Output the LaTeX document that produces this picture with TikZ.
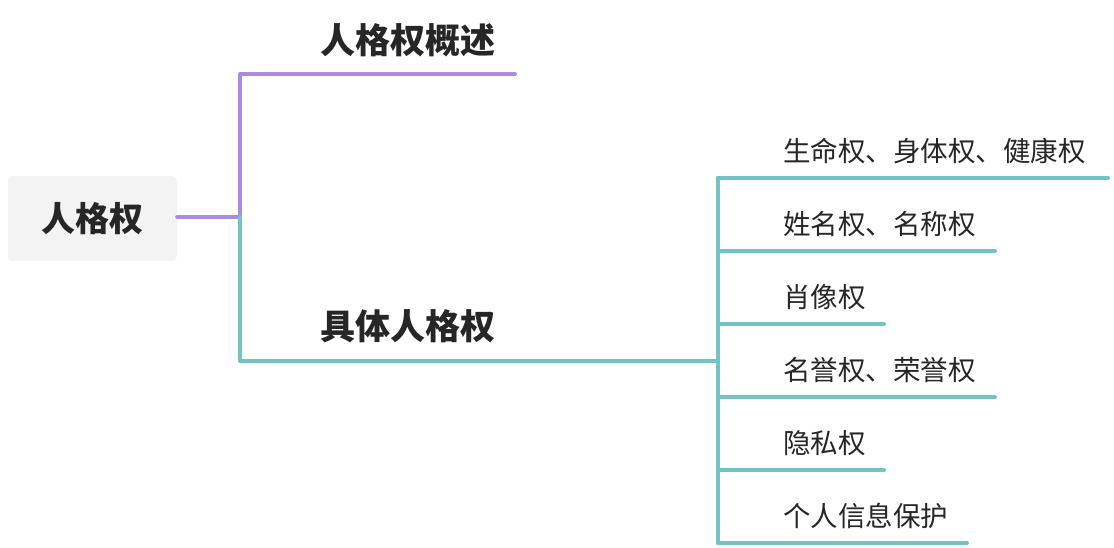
\documentclass[tikz,border=0pt]{standalone}
\usepackage{fontspec}
\setmainfont{Noto Sans CJK SC}
\definecolor{teal1}{HTML}{72C4C4}
\definecolor{purp}{HTML}{A98BE3}
\definecolor{boxg}{HTML}{F3F3F3}
\definecolor{txt}{HTML}{262626}
\begin{document}
\begin{tikzpicture}[x=1pt,y=-1pt,
  ln/.style={line width=4pt,line cap=round,line join=round},
  head/.style={font=\fontsize{35}{38}\selectfont\bfseries,text=txt,anchor=west,inner sep=0},
  leaf/.style={font=\fontsize{27.5}{30}\selectfont,text=txt,anchor=west,inner sep=0}]
\useasboundingbox (0,0) rectangle (1114,548);
\node[fill=boxg,rounded corners=5pt,minimum width=169pt,minimum height=85pt,inner sep=0,
  font=\fontsize{34}{37}\selectfont\bfseries,text=txt] (root) at (92.5,218.5) {人格权};
\node[head] (a) at (320,40) {人格权概述};
\node[head] (b) at (320,326) {具体人格权};
\coordinate (j) at (240,217);
\coordinate (ae) at (515,74);
\coordinate (be) at (718,361);
\draw[ln,purp] (root.east |- j) -- (j) -- (240,74) -- (ae);
\draw[ln,teal1] (j) -- (240,361) -- (be);
\foreach \y/\e/\t/\n in {178/1108/生命权、身体权、健康权/c1,251/995/姓名权、名称权/c2,324/884/肖像权/c3,397/995/名誉权、荣誉权/c4,470/884/隐私权/c5,543/967/个人信息保护/c6}{
  \node[leaf] (\n) at (783,\y-27) {\t};
  \draw[ln,teal1] (718,\y) -- (\e,\y);
}
\draw[ln,teal1] (be) -- (718,178);
\draw[ln,teal1] (be) -- (718,543);
\end{tikzpicture}
\end{document}
